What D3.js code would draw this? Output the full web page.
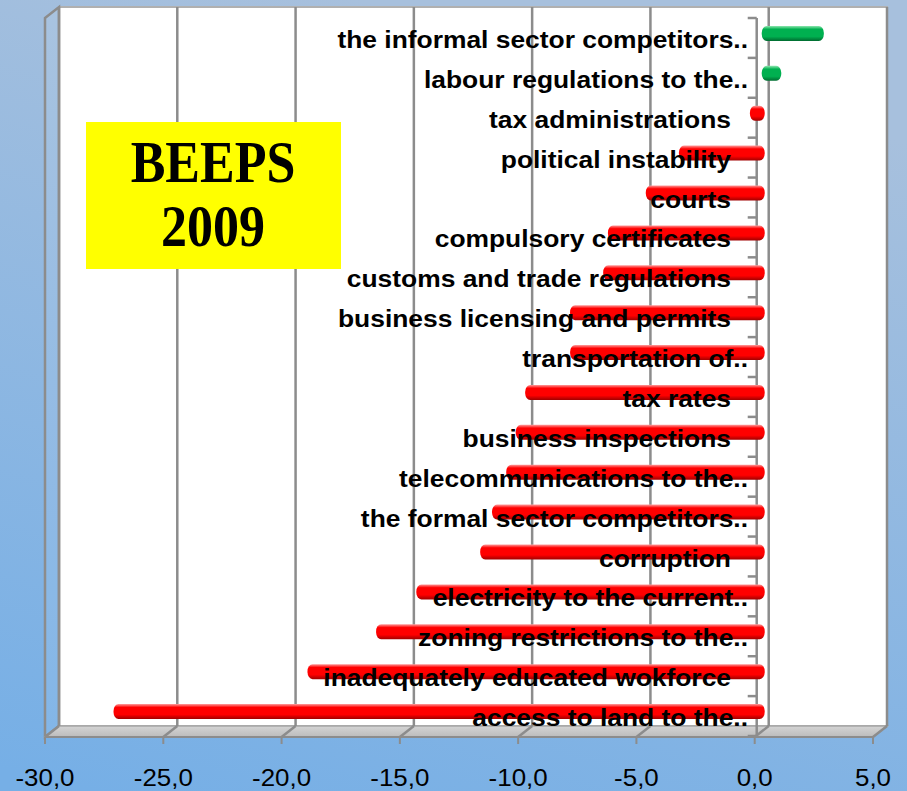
<!DOCTYPE html>
<html>
<head>
<meta charset="utf-8">
<script src="https://cdn.jsdelivr.net/npm/d3@7"></script>
<style>
  html, body { margin: 0; padding: 0; }
  body { width: 907px; height: 791px; overflow: hidden; }
</style>
</head>
<body>
<div id="chart"></div>
<script>
// obstacles, top to bottom
const categories = [
  "the informal sector competitors..",
  "labour regulations to the..",
  "tax administrations",
  "political instability",
  "courts",
  "compulsory certificates",
  "customs and trade regulations",
  "business licensing and permits",
  "transportation of..",
  "tax rates",
  "business inspections",
  "telecommunications to the..",
  "the formal sector competitors..",
  "corruption",
  "electricity to the current..",
  "zoning restrictions to the..",
  "inadequately educated wokforce",
  "access to land to the.."
];
const values = [2.5, 0.7, -0.5, -3.5, -4.9, -6.5, -6.7, -8.1, -8.1, -10.0, -10.4, -10.8, -11.4, -11.9, -14.6, -16.3, -19.2, -27.4];
const xTicks = [-30, -25, -20, -15, -10, -5, 0, 5];
const titleLines = ["BEEPS", "2009"];

const width = 907, height = 791;
const depthX = 14, depthY = -11;
const plotTop = 18, plotBottom = 737;

const svg = d3.select("#chart").append("svg")
  .attr("width", width).attr("height", height);

const defs = svg.append("defs");
const bg = defs.append("linearGradient").attr("id", "bg")
  .attr("x1", 0.4).attr("y1", 0).attr("x2", 0.1).attr("y2", 1);
bg.append("stop").attr("offset", "0%").attr("stop-color", "#a7c0dd");
bg.append("stop").attr("offset", "100%").attr("stop-color", "#76afe6");

function cylinder(id, light, mid, dark) {
  const g = defs.append("linearGradient").attr("id", id)
    .attr("x1", 0).attr("y1", 0).attr("x2", 0).attr("y2", 1);
  g.append("stop").attr("offset", "0%").attr("stop-color", light);
  g.append("stop").attr("offset", "22%").attr("stop-color", mid);
  g.append("stop").attr("offset", "70%").attr("stop-color", mid);
  g.append("stop").attr("offset", "100%").attr("stop-color", dark);
}
cylinder("red", "#ff9c9c", "#ff0000", "#a00000");
cylinder("green", "#8fe8b0", "#00b050", "#006b30");

const floorGrad = defs.append("linearGradient").attr("id", "floor")
  .attr("x1", 0).attr("y1", 0).attr("x2", 0).attr("y2", 1);
floorGrad.append("stop").attr("offset", "0%").attr("stop-color", "#d4d4d4");
floorGrad.append("stop").attr("offset", "100%").attr("stop-color", "#bcbcbc");

svg.append("rect").attr("width", width).attr("height", height).attr("fill", "url(#bg)");

// front plane scales
const x = d3.scaleLinear().domain([-30, 5]).range([45, 873]);
const y = d3.scaleBand().domain(categories).range([plotTop, plotBottom - 1]);
const xBar = v => x(v) + depthX / 2;

const gridColor = "#8c8c8c";

// back wall
svg.append("rect")
  .attr("x", x(-30) + depthX).attr("y", plotTop + depthY)
  .attr("width", x(5) - x(-30)).attr("height", plotBottom - plotTop)
  .attr("fill", "#ffffff").attr("stroke", "#b0b0b0").attr("stroke-width", 2);

// left side wall
svg.append("polygon")
  .attr("points", [[x(-30), plotTop], [x(-30) + depthX, plotTop + depthY], [x(-30) + depthX, plotBottom + depthY], [x(-30), plotBottom]].join(" "))
  .attr("fill", "rgba(255,255,255,0.08)").attr("stroke", gridColor).attr("stroke-width", 2.5);

// floor
svg.append("polygon")
  .attr("points", [[x(-30), plotBottom], [x(-30) + depthX, plotBottom + depthY], [x(5) + depthX, plotBottom + depthY], [x(5), plotBottom]].join(" "))
  .attr("fill", "url(#floor)").attr("stroke", "#a6a6a6").attr("stroke-width", 1.5);

// gridlines on back wall and floor
const grid = svg.append("g").attr("stroke", gridColor).attr("stroke-width", 2.5).attr("fill", "none");
grid.selectAll("line.v").data(xTicks).join("line").attr("class", "v")
  .attr("x1", d => x(d) + depthX).attr("x2", d => x(d) + depthX)
  .attr("y1", plotTop + depthY).attr("y2", plotBottom + depthY);
grid.selectAll("line.f").data(xTicks).join("line").attr("class", "f")
  .attr("x1", d => x(d) + depthX).attr("x2", d => x(d))
  .attr("y1", plotBottom + depthY).attr("y2", plotBottom);

// category axis at zero
const yAxis = svg.append("g").attr("stroke", "#8c8c8c").attr("stroke-width", 2.5);
yAxis.append("line").attr("x1", x(0) + 2).attr("x2", x(0) + 2).attr("y1", plotTop).attr("y2", plotBottom);
yAxis.selectAll("line.t").data(d3.range(categories.length + 1)).join("line").attr("class", "t")
  .attr("x1", x(0) - 7).attr("x2", x(0) + 2)
  .attr("y1", i => plotTop + i * y.step()).attr("y2", i => plotTop + i * y.step());

// bars
const barH = 15;
svg.append("g").selectAll("rect").data(values).join("rect")
  .attr("x", d => Math.min(xBar(d), xBar(0)))
  .attr("width", d => Math.abs(xBar(d) - xBar(0)) + 3)
  .attr("y", (d, i) => y(categories[i]) + y.bandwidth() / 2 - 4.5 - barH / 2)
  .attr("height", barH)
  .attr("rx", 5).attr("ry", 7)
  .attr("fill", d => d < 0 ? "url(#red)" : "url(#green)");

// category labels (slightly wide, as in the original)
svg.append("g").selectAll("text").data(categories).join("text")
  .attr("transform", d => `translate(${d.endsWith("..") ? 748 : 731},${y(d) + y.bandwidth() / 2 + 10}) scale(1.1,1)`)
  .attr("text-anchor", "end")
  .attr("font-family", "'Liberation Sans', Arial, sans-serif")
  .attr("font-weight", "bold")
  .attr("font-size", 24)
  .attr("fill", "#000")
  .text(d => d);

// value axis
const fmt = d3.formatLocale({ decimal: ",", thousands: ".", grouping: [3], currency: ["", ""], minus: "-" }).format(".1f");
const xAxis = svg.append("g");
xAxis.append("line").attr("x1", x(-30)).attr("x2", x(5)).attr("y1", plotBottom).attr("y2", plotBottom)
  .attr("stroke", gridColor).attr("stroke-width", 2);
xAxis.selectAll("line.t").data(xTicks).join("line").attr("class", "t")
  .attr("x1", d => x(d)).attr("x2", d => x(d))
  .attr("y1", plotBottom).attr("y2", plotBottom + 7)
  .attr("stroke", gridColor).attr("stroke-width", 2);
xAxis.selectAll("text").data(xTicks).join("text")
  .attr("transform", d => `translate(${x(d)},786) scale(1.08,1)`)
  .attr("text-anchor", "middle")
  .attr("font-family", "'Liberation Sans', Arial, sans-serif")
  .attr("font-size", 24)
  .attr("fill", "#000")
  .text(d => fmt(d));

// title box
svg.append("rect").attr("x", 86).attr("y", 122).attr("width", 255).attr("height", 147).attr("fill", "#ffff00");
svg.append("g").selectAll("text").data(titleLines).join("text")
  .attr("transform", (d, i) => `translate(213,${182 + i * 64}) scale(1,1.14)`)
  .attr("text-anchor", "middle")
  .attr("font-family", "'Liberation Serif', 'Times New Roman', serif")
  .attr("font-weight", "bold")
  .attr("font-size", 52)
  .attr("fill", "#000")
  .text(d => d);
</script>
</body>
</html>
